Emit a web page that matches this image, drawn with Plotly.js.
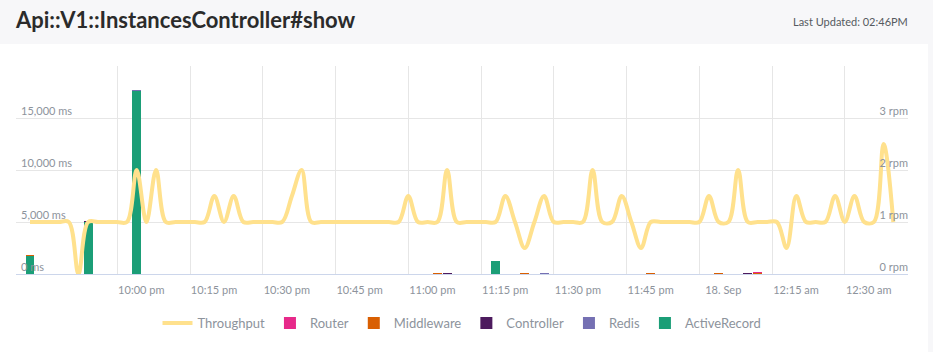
<!DOCTYPE html>
<html>
<head>
<meta charset="utf-8">
<script src="https://cdn.plot.ly/plotly-3.0.1.min.js"></script>
<style>
  html, body { margin: 0; padding: 0; background: #ffffff; }
  #chart { width: 933px; height: 352px; }
</style>
</head>
<body>
<div id="chart"></div>
<script>
// ---- data (times are clock times, evening of 17 Sep into 18 Sep) ----
const throughputTimes = [
  '21:42','21:44','21:46','21:48','21:50','21:52','21:54','21:56','21:58','22:00',
  '22:02','22:04','22:06','22:08','22:10','22:12','22:14','22:16','22:18','22:20',
  '22:22','22:24','22:26','22:28','22:30','22:32','22:34','22:36','22:38','22:40',
  '22:42','22:44','22:46','22:48','22:50','22:52','22:54','22:56','22:58','23:00',
  '23:02','23:04','23:06','23:08','23:10','23:12','23:14','23:16','23:18','23:20',
  '23:22','23:24','23:26','23:28','23:30','23:32','23:34','23:36','23:38','23:40',
  '23:42','23:44','23:46','23:48','23:50','23:52','23:54','23:56','23:58','00:00',
  '00:02','00:04','00:06','00:08','00:10','00:12','00:14','00:16','00:18','00:20',
  '00:22','00:24','00:26','00:28','00:30','00:32','00:34','00:36','00:38','00:40'
];
const throughputRpm = [
  1, 1, 1, 1, 1, 0, 1, 1, 1, 1,
  1, 2, 1, 2, 1, 1, 1, 1, 1, 1.5,
  1, 1.5, 1, 1, 1, 1, 1, 1.5, 2, 1,
  1, 1, 1, 1, 1, 1, 1, 1, 1, 1.5,
  1, 1, 1, 2, 1, 1, 1, 1, 1, 1.5,
  1, 0.5, 1, 1.5, 1, 1, 1, 1, 2, 1,
  1, 1.5, 1, 0.5, 1, 1, 1, 1, 1, 1,
  1.5, 1, 1, 2, 1, 1, 1, 1, 0.5, 1.5,
  1, 1, 1, 1.5, 1, 1.5, 1, 1, 2.5, 1
];

const activeRecordTimes = ['21:42', '21:54', '22:04', '23:18'];
const activeRecordMs    = [1730, 5000, 17600, 1250];
const redisTimes        = ['22:04', '23:28'];
const redisMs           = [130, 100];
const controllerTimes   = ['21:54', '23:08', '00:10'];
const controllerMs      = [100, 100, 100];
const middlewareTimes   = ['21:42', '23:06', '23:24', '23:50', '00:04', '00:12'];
const middlewareMs      = [100, 100, 100, 100, 100, 60];
const routerTimes       = ['00:12'];
const routerMs          = [140];

const xTickTimes  = ['21:45','22:00','22:15','22:30','22:45','23:00','23:15','23:30','23:45','00:00','00:15','00:30'];
const xTickLabels = ['', '10:00 pm', '10:15 pm', '10:30 pm', '10:45 pm', '11:00 pm', '11:15 pm', '11:30 pm', '11:45 pm', '18. Sep', '12:15 am', '12:30 am'];
const msTickVals   = [0, 5000, 10000, 15000, 20000];
const msTickLabels = ['0 ms', '5,000 ms', '10,000 ms', '15,000 ms', ''];
const rpmTickVals   = [0, 1, 2, 3, 4];
const rpmTickLabels = ['0 rpm', '1 rpm', '2 rpm', '3 rpm', ''];

// clock time -> full timestamp (evening belongs to the 17th, after midnight to the 18th)
function stamp(hm) {
  const h = parseInt(hm.slice(0, 2), 10);
  return (h >= 12 ? '2018-09-17 ' : '2018-09-18 ') + hm;
}

const BAR_W = 111000; // ms
const gray = '#8d939c';
const font = 'Lato, "Open Sans", sans-serif';

function barTrace(name, times, vals, color, rank) {
  return {
    type: 'bar', name: name, x: times.map(stamp), y: vals,
    marker: { color: color, line: { width: 0 } },
    width: BAR_W, yaxis: 'y', legendrank: rank, hoverinfo: 'skip'
  };
}

const traces = [
  barTrace('ActiveRecord', activeRecordTimes, activeRecordMs, '#1b9e77', 6),
  barTrace('Redis', redisTimes, redisMs, '#7570b3', 5),
  barTrace('Controller', controllerTimes, controllerMs, '#4d1b5e', 4),
  barTrace('Middleware', middlewareTimes, middlewareMs, '#d95f02', 3),
  barTrace('Router', routerTimes, routerMs, '#e7298a', 2),
  {
    type: 'scatter', mode: 'lines', name: 'Throughput',
    x: throughputTimes.map(stamp), y: throughputRpm, yaxis: 'y2',
    line: { color: '#ffe18d', width: 4, shape: 'spline', smoothing: 1 },
    legendrank: 1, hoverinfo: 'skip'
  }
];

const layout = {
  width: 933, height: 352,
  margin: { l: 16, r: 25, t: 66, b: 78, pad: 0 },
  paper_bgcolor: '#ffffff', plot_bgcolor: '#ffffff',
  font: { family: font, color: gray, size: 11 },
  barmode: 'stack',
  showlegend: true,
  title: {
    text: 'Api::V1::InstancesController#show',
    font: { family: font, size: 22, color: '#2b2b2b', weight: 'bold' },
    xref: 'container', yref: 'container',
    x: 16 / 933, xanchor: 'left', y: 1 - 20 / 352, yanchor: 'middle'
  },
  xaxis: {
    type: 'date',
    range: ['2018-09-17 21:39:07', '2018-09-18 00:43:02'],
    tickmode: 'array', tickvals: xTickTimes.map(stamp), ticktext: xTickLabels,
    showgrid: true, gridcolor: '#e6e6e6', gridwidth: 1,
    showline: true, linecolor: '#ccd6eb', linewidth: 1,
    ticks: '', zeroline: false,
    ticklabelshift: 24, ticklabelstandoff: 6,
    tickfont: { family: font, size: 11, color: gray },
    fixedrange: true
  },
  yaxis: {
    range: [0, 20000],
    tickmode: 'array', tickvals: msTickVals, ticktext: msTickLabels,
    ticklabelposition: 'inside', ticklabelshift: -7, ticklabelstandoff: 2,
    showgrid: true, gridcolor: '#e6e6e6', gridwidth: 1,
    zeroline: false, showline: false, ticks: '',
    tickfont: { family: font, size: 11, color: gray },
    fixedrange: true
  },
  yaxis2: {
    overlaying: 'y', side: 'right',
    range: [0, 4],
    tickmode: 'array', tickvals: rpmTickVals, ticktext: rpmTickLabels,
    ticklabelposition: 'inside', ticklabelshift: -7, ticklabelstandoff: -3,
    showgrid: false, zeroline: false, showline: false, ticks: '',
    tickfont: { family: font, size: 11, color: gray },
    fixedrange: true
  },
  legend: {
    orientation: 'h', x: 0.5, xanchor: 'center',
    y: (274 - 323) / 208, yanchor: 'middle',
    traceorder: 'normal',
    font: { family: font, size: 13, color: gray },
    itemwidth: 30
  },
  shapes: [
    { type: 'rect', xref: 'paper', yref: 'paper', layer: 'below',
      x0: -16 / 892, x1: 917 / 892, y0: 230 / 208, y1: 274 / 208,
      fillcolor: '#f7f7f9', line: { width: 0 } },
    { type: 'rect', xref: 'paper', yref: 'paper', layer: 'below',
      x0: 912 / 892, x1: 917 / 892, y0: -78 / 208, y1: 274 / 208,
      fillcolor: '#f7f7f9', line: { width: 0 } }
  ],
  annotations: [
    { xref: 'paper', yref: 'paper', x: 1, xanchor: 'right', xshift: 2,
      y: (274 - 21) / 208, yanchor: 'middle', showarrow: false,
      text: 'Last Updated: 02:46PM',
      font: { family: font, size: 11, color: '#555a60' } }
  ]
};

Plotly.newPlot('chart', traces, layout, { displayModeBar: false, staticPlot: true });
</script>
</body>
</html>
